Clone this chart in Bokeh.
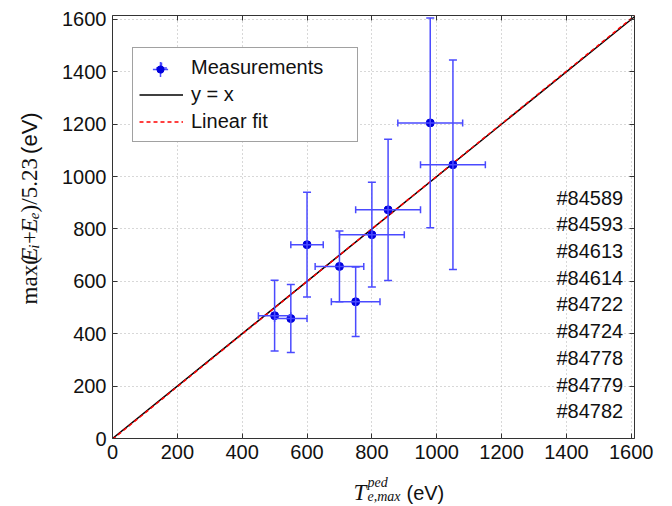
import math
import numpy as np
from bokeh.plotting import figure
from bokeh.layouts import row, column
from bokeh.models import (ColumnDataSource, Whisker, TeeHead, Legend, LegendItem,
                          LinearAxis, Range1d, FixedTicker, CustomJSTickFormatter)
from bokeh.core.properties import value
from bokeh.embed import file_html
from bokeh.resources import INLINE

# ---- data ----
t_ped = [500, 550, 600, 700, 750, 800, 850, 980, 1050]          # x, eV
e_max = [469, 458, 740, 657, 522, 778, 873, 1205, 1045]         # y, eV
t_err = [50, 50, 50, 75, 75, 100, 100, 100, 100]
e_err = [135, 130, 200, 135, 133, 200, 270, 400, 400]
shots = ["#84589", "#84593", "#84613", "#84614", "#84722",
         "#84724", "#84778", "#84779", "#84782"]
x_ticks = [0, 200, 400, 600, 800, 1000, 1200, 1400, 1600]
y_ticks = [0, 200, 400, 600, 800, 1000, 1200, 1400, 1600]
line_ends = [0, 1620]
fit_slope = 1.004
fit_intercept = -3.0

X_END, Y_END = 1610, 1615
BAR = "#4a4aff"
DOT = "#0000dd"
TXT = "#111111"
SANS = "Liberation Sans"
SERIF = "Liberation Serif"

src = ColumnDataSource(dict(
    x=t_ped, y=e_max,
    xlo=[a - b for a, b in zip(t_ped, t_err)], xhi=[a + b for a, b in zip(t_ped, t_err)],
    ylo=[a - b for a, b in zip(e_max, e_err)], yhi=[a + b for a, b in zip(e_max, e_err)],
))

# ---------------- main plot ----------------
p = figure(width=622, height=470, x_range=Range1d(0, X_END), y_range=Range1d(0, Y_END),
           output_backend="svg", toolbar_location=None,
           min_border_left=62, min_border_right=38, min_border_top=15, min_border_bottom=32)
p.background_fill_color = "white"
p.border_fill_color = "white"
p.outline_line_color = "#333333"
p.outline_line_width = 1

p.grid.grid_line_color = "#b0b0b0"
p.grid.grid_line_dash = "1 3"
p.grid.grid_line_width = 1
p.xgrid.ticker = FixedTicker(ticks=x_ticks)
p.ygrid.ticker = FixedTicker(ticks=y_ticks)

def style_axis(ax, ticks, show_labels=True):
    ax.ticker = FixedTicker(ticks=ticks)
    ax.axis_line_color = None
    ax.major_tick_in = 5
    ax.major_tick_out = 0
    ax.minor_tick_in = 0
    ax.minor_tick_out = 0
    ax.major_tick_line_color = "#333333"
    if show_labels:
        ax.major_label_text_font = SANS
        ax.major_label_text_font_size = "20px"
        ax.major_label_text_color = TXT
        ax.major_label_standoff = 6
    else:
        ax.formatter = CustomJSTickFormatter(code="return ''")
        ax.major_label_text_font_size = "0px"
        ax.major_label_standoff = 0

style_axis(p.xaxis[0], x_ticks)
style_axis(p.yaxis[0], y_ticks)
top_ax = LinearAxis()
right_ax = LinearAxis()
style_axis(top_ax, x_ticks, False)
style_axis(right_ax, y_ticks, False)
p.add_layout(top_ax, "above")
p.add_layout(right_ax, "right")

# y = x and linear fit
xs = np.array(line_ends, dtype=float)
r_eq = p.line(xs, xs, line_color="black", line_width=1.5)
r_fit = p.line(xs, fit_slope * xs + fit_intercept, line_color="red",
               line_width=1.5, line_dash="4 3")

# error bars
vw = Whisker(source=src, base="x", lower="ylo", upper="yhi", dimension="height",
             line_color=BAR, line_width=1.5, level="glyph",
             upper_head=TeeHead(size=8, line_color=BAR, line_width=1.5),
             lower_head=TeeHead(size=8, line_color=BAR, line_width=1.5))
hw = Whisker(source=src, base="y", lower="xlo", upper="xhi", dimension="width",
             line_color=BAR, line_width=1.5, level="glyph",
             upper_head=TeeHead(size=7, line_color=BAR, line_width=1.5),
             lower_head=TeeHead(size=7, line_color=BAR, line_width=1.5))
p.add_layout(vw)
p.add_layout(hw)

# legend-only error cross (zero size on the plot, drawn in the legend)
r_leg_cross = p.scatter("x", "y", source=src, marker="cross", size=0,
                        line_color=BAR, line_width=1.5)
# measured points
r_pts = p.scatter("x", "y", source=src, size=8, fill_color=DOT, line_color=DOT)

# shot labels
shot_x = [1575] * len(shots)
shot_y = [920 - 102 * i for i in range(len(shots))]
p.text(x=shot_x, y=shot_y, text=shots, text_font=value(SANS), text_font_size="20px",
       text_align="right", text_baseline="middle", text_color=TXT)

legend = Legend(items=[
    LegendItem(label="Measurements", renderers=[r_leg_cross]),
    LegendItem(label="y = x", renderers=[r_eq]),
    LegendItem(label="Linear fit", renderers=[r_fit]),
], location=(20, 296))
legend.label_text_font = SANS
legend.label_text_font_size = "20px"
legend.label_text_color = TXT
legend.glyph_width = 44
legend.glyph_height = 27
legend.label_height = 27
legend.label_width = 160
legend.label_standoff = 8
legend.spacing = 0
legend.padding = 6
legend.margin = 0
legend.border_line_color = "#444444"
legend.border_line_width = 1
legend.background_fill_alpha = 1
p.add_layout(legend)

# transparent overlay legends: larger error cross and a small dot on the Measurements glyph
def overlay_legend(renderer, box, loc):
    lg = Legend(items=[LegendItem(label=" ", renderers=[renderer])], location=loc)
    lg.glyph_width = box
    lg.glyph_height = box
    lg.label_height = 8
    lg.label_width = 0
    lg.label_standoff = 0
    lg.label_text_font_size = "8px"
    lg.label_text_alpha = 0
    lg.padding = 0
    lg.margin = 0
    lg.spacing = 0
    lg.border_line_color = None
    lg.background_fill_alpha = 0
    return lg

p.add_layout(overlay_legend(r_leg_cross, 38, (29, 350.5)))
p.add_layout(overlay_legend(r_pts, 18, (39, 360.5)))

# ---------------- label strips ----------------
def strip(w, h):
    f = figure(width=w, height=h, x_range=Range1d(0, w), y_range=Range1d(0, h),
               output_backend="svg", toolbar_location=None,
               x_axis_type=None, y_axis_type=None, min_border=0)
    f.outline_line_color = None
    f.grid.visible = False
    f.background_fill_color = "white"
    f.border_fill_color = "white"
    return f

# y label: max(E_i+E_e)/5.23 (eV), rotated, read bottom-to-top
py = strip(50, 470)
ypieces = ["max(", "E", "i", "+", "E", "e", ")/5.23", "(eV)"]
yfonts = [SERIF, SERIF, SERIF, SERIF, SERIF, SERIF, SERIF, SANS]
ystyles = ["normal", "italic", "italic", "normal", "italic", "italic", "normal", "normal"]
ysizes = ["23px", "23px", "15px", "23px", "23px", "15px", "23px", "22px"]
yshift = [0, 0, 4, 0, 0, 4, 0, 0]          # subscript drop
yadv = [47.3, 14.5, 5.2, 13.0, 14.5, 7.7, 65.0, 42.0]
y_start = 149
ypos = list(np.cumsum([y_start] + yadv[:-1]))
base_x = 29
ysrc = ColumnDataSource(dict(x=[base_x + s for s in yshift], y=ypos, t=ypieces,
                             f=yfonts, st=ystyles, sz=ysizes))
py.text(x="x", y="y", text="t", text_font="f", text_font_style="st", text_font_size="sz",
        angle=math.pi / 2, text_align="left", text_baseline="alphabetic",
        text_color=TXT, source=ysrc)

# x label: T^{ped}_{e,max} (eV)
px = strip(672, 36)
xsrc = ColumnDataSource(dict(
    x=[353, 367, 367, 406], y=[14.3, 24.5, 10.4, 14.0],
    t=["T", "ped", "e,max", "(eV)"],
    f=[SERIF, SERIF, SERIF, SANS],
    st=["italic", "italic", "italic", "normal"],
    sz=["23px", "14px", "14px", "20px"],
))
px.text(x="x", y="y", text="t", text_font="f", text_font_style="st", text_font_size="sz",
        text_align="left", text_baseline="alphabetic", text_color=TXT, source=xsrc)

layout = column(row(py, p, spacing=0), px, spacing=0)
open("out.html", "w").write(file_html(layout, INLINE))
